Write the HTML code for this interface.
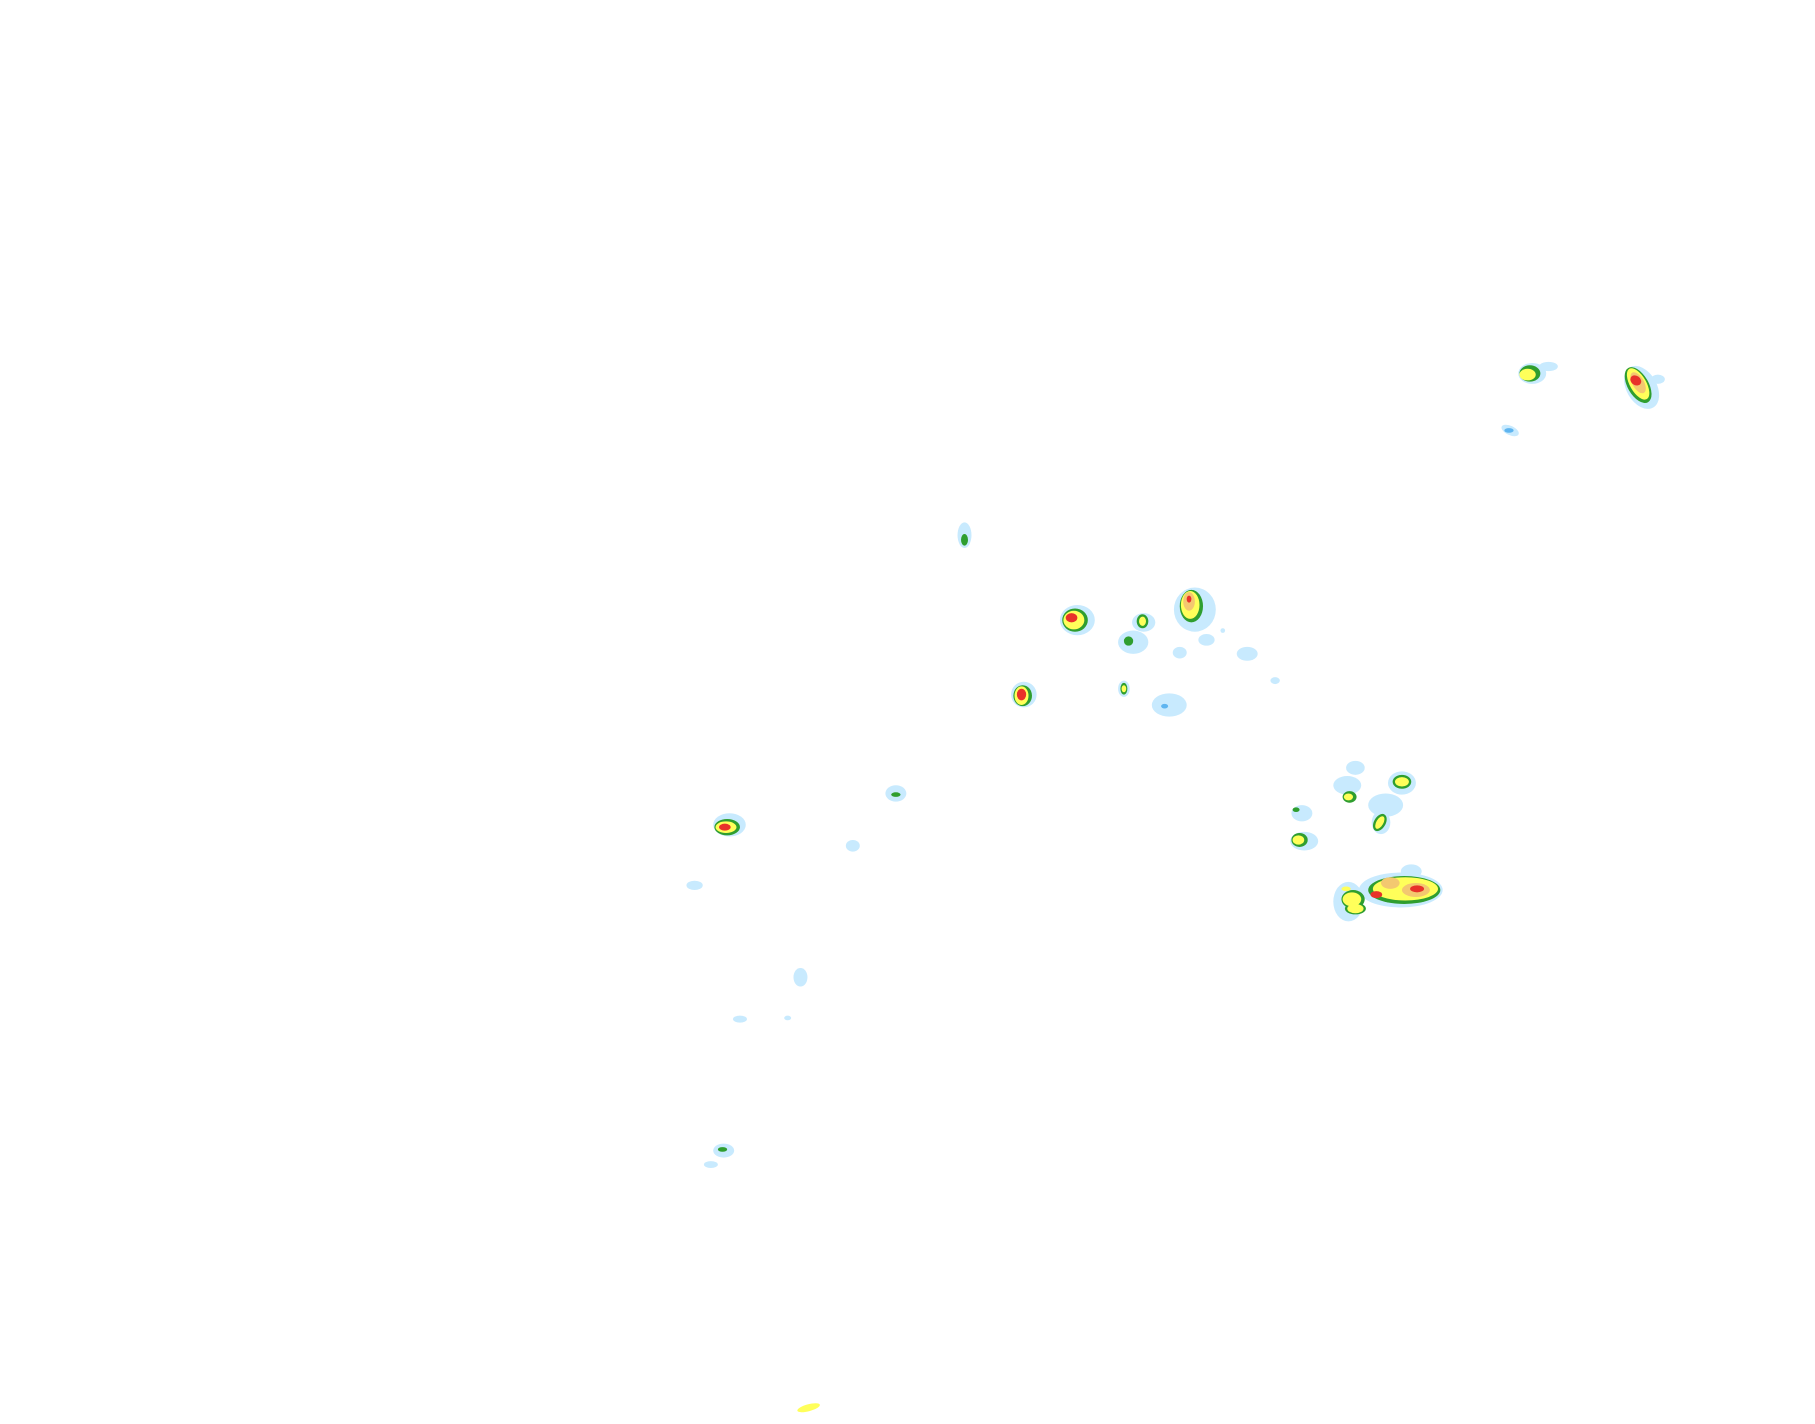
<!DOCTYPE html>
<html><head><meta charset="utf-8"><style>html,body{margin:0;padding:0;background:#fff}svg{display:block}</style></head>
<body>
<svg width="1815" height="1424" viewBox="0 0 1560 1224" xmlns="http://www.w3.org/2000/svg">
<rect width="1560" height="1224" fill="#fff"/>
<g transform="translate(-3,-3)">
<g fill="#c8eafe">
<ellipse cx="1320" cy="324" rx="12" ry="9"/><ellipse cx="1334" cy="318" rx="8" ry="4"/>
<ellipse cx="1414" cy="336" rx="13" ry="20" transform="rotate(-30 1414 336)"/><ellipse cx="1428" cy="329" rx="6" ry="4"/>
<ellipse cx="1301" cy="373" rx="8" ry="4" transform="rotate(25 1301 373)"/>
<ellipse cx="832" cy="463" rx="6" ry="11"/>
<ellipse cx="929" cy="536" rx="15" ry="13"/>
<ellipse cx="986" cy="538" rx="10" ry="8"/>
<ellipse cx="977" cy="555" rx="13" ry="10"/>
<ellipse cx="1030" cy="527" rx="18" ry="19"/>
<ellipse cx="1040" cy="553" rx="7" ry="5"/><ellipse cx="1017" cy="564" rx="6" ry="5"/>
<ellipse cx="1075" cy="565" rx="9" ry="6"/><circle cx="1054" cy="545" r="2"/><ellipse cx="1099" cy="588" rx="4" ry="3"/>
<ellipse cx="883" cy="600" rx="11" ry="11"/>
<ellipse cx="969" cy="595" rx="5" ry="7"/>
<ellipse cx="1008" cy="609" rx="15" ry="10"/>
<ellipse cx="773" cy="685" rx="9" ry="7"/>
<ellipse cx="630" cy="712" rx="14" ry="10"/>
<ellipse cx="736" cy="730" rx="6" ry="5"/>
<ellipse cx="600" cy="764" rx="7" ry="4"/>
<ellipse cx="691" cy="843" rx="6" ry="8"/>
<ellipse cx="639" cy="879" rx="6" ry="3"/><ellipse cx="680" cy="878" rx="3" ry="2"/>
<ellipse cx="625" cy="992" rx="9" ry="6"/><ellipse cx="614" cy="1004" rx="6" ry="3"/>
<ellipse cx="1168" cy="663" rx="8" ry="6"/><ellipse cx="1161" cy="678" rx="12" ry="8"/>
<ellipse cx="1194" cy="695" rx="15" ry="10"/><ellipse cx="1208" cy="676" rx="12" ry="10"/>
<ellipse cx="1190" cy="710" rx="8" ry="10"/>
<ellipse cx="1122" cy="702" rx="9" ry="7"/><ellipse cx="1124" cy="726" rx="12" ry="8"/>
<ellipse cx="1162" cy="778" rx="13" ry="17"/><ellipse cx="1207" cy="768" rx="36" ry="15"/><ellipse cx="1216" cy="752" rx="9" ry="6"/>
</g>
<g fill="#5fb5f0"><ellipse cx="1004" cy="610" rx="3" ry="2"/><ellipse cx="1300" cy="373" rx="4" ry="2"/></g>
<g fill="#2f9e2f">
<ellipse cx="1318" cy="324" rx="9" ry="7"/>
<ellipse cx="1411" cy="334" rx="9" ry="17" transform="rotate(-30 1411 334)"/>
<ellipse cx="832" cy="467" rx="3" ry="5"/>
<ellipse cx="927" cy="536" rx="11" ry="10"/>
<ellipse cx="985" cy="537" rx="5" ry="6"/>
<ellipse cx="973" cy="554" rx="4" ry="4"/>
<ellipse cx="1027" cy="524" rx="10" ry="14"/>
<ellipse cx="882" cy="601" rx="8" ry="9"/>
<ellipse cx="969" cy="595" rx="3" ry="5"/>
<ellipse cx="628" cy="714" rx="11" ry="7"/>
<ellipse cx="773" cy="686" rx="4" ry="2"/>
<ellipse cx="624" cy="991" rx="4" ry="2"/>
<ellipse cx="1208" cy="675" rx="8" ry="6"/>
<ellipse cx="1163" cy="688" rx="6" ry="5"/>
<ellipse cx="1189" cy="710" rx="5" ry="8" transform="rotate(30 1189 710)"/>
<ellipse cx="1120" cy="725" rx="7" ry="6"/>
<ellipse cx="1117" cy="699" rx="3" ry="2"/>
<ellipse cx="1210" cy="768" rx="31" ry="12"/>
<ellipse cx="1166" cy="776" rx="10" ry="8"/><ellipse cx="1168" cy="784" rx="9" ry="5"/>
</g>
<g fill="#ffff5a">
<ellipse cx="1316" cy="325" rx="7" ry="5"/>
<ellipse cx="1411" cy="333" rx="7" ry="15" transform="rotate(-30 1411 333)"/>
<ellipse cx="926" cy="536" rx="9" ry="8"/>
<ellipse cx="985" cy="537" rx="3" ry="4"/>
<ellipse cx="1026" cy="523" rx="8" ry="12"/>
<ellipse cx="881" cy="601" rx="6" ry="8"/>
<ellipse cx="969" cy="595" rx="2" ry="3"/>
<ellipse cx="627" cy="714" rx="9" ry="5"/>
<ellipse cx="1208" cy="675" rx="6" ry="4"/>
<ellipse cx="1162" cy="688" rx="4" ry="3"/>
<ellipse cx="1189" cy="710" rx="3" ry="6" transform="rotate(30 1189 710)"/>
<ellipse cx="1119" cy="725" rx="5" ry="4"/>
<ellipse cx="1211" cy="767" rx="28" ry="10"/>
<ellipse cx="1165" cy="776" rx="8" ry="6"/><ellipse cx="1168" cy="784" rx="7" ry="4"/><ellipse cx="1160" cy="767" rx="4" ry="2"/>
<ellipse cx="698" cy="1213" rx="10" ry="3" transform="rotate(-15 698 1213)"/>
</g>
<g fill="#f3c870">
<ellipse cx="1411" cy="332" rx="5" ry="10" transform="rotate(-30 1411 332)"/>
<ellipse cx="1025" cy="520" rx="5" ry="8"/>
<ellipse cx="1198" cy="762" rx="8" ry="5"/><ellipse cx="1220" cy="768" rx="12" ry="6"/>
</g>
<g fill="#e8322a">
<ellipse cx="1409" cy="330" rx="5" ry="4" transform="rotate(35 1409 330)"/>
<ellipse cx="924" cy="534" rx="5" ry="4"/>
<ellipse cx="1025" cy="518" rx="2" ry="3"/>
<ellipse cx="881" cy="600" rx="4" ry="5"/>
<ellipse cx="626" cy="714" rx="5" ry="3"/>
<ellipse cx="1186" cy="772" rx="5" ry="3"/>
<ellipse cx="1221" cy="767" rx="6" ry="3"/>
</g>
</g>
</svg>
</body></html>
